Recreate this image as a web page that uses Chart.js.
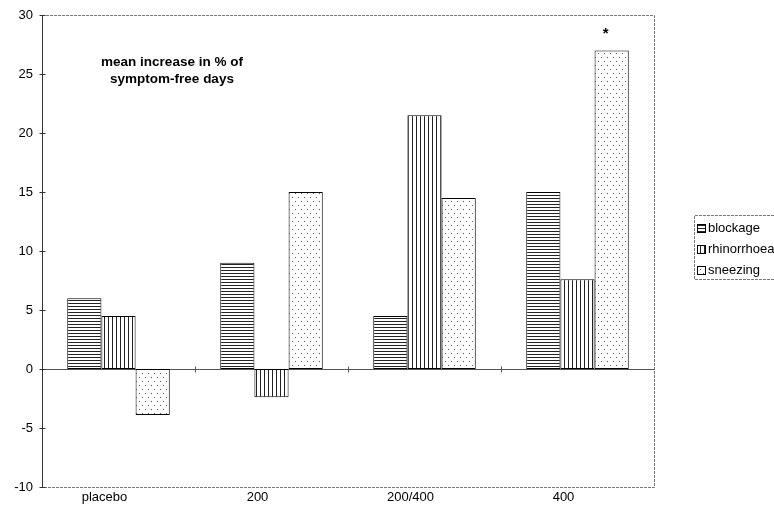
<!DOCTYPE html>
<html>
<head>
<meta charset="utf-8">
<script src="https://cdn.jsdelivr.net/npm/chart.js@4/dist/chart.umd.min.js"></script>
<style>
html,body{margin:0;padding:0;background:#fff;}
#wrap{width:774px;height:505px;position:relative;}
</style>
</head>
<body>
<div id="wrap"><canvas id="c" width="774" height="505"></canvas></div>
<script>
const categories = ['placebo', '200', '200/400', '400'];
const seriesNames = ['blockage', 'rhinorrhoea', 'sneezing'];
const blockage = [6, 9, 4.5, 15];
const rhinorrhoea = [4.5, -2.4, 21.5, 7.6];
const sneezing = [-3.9, 15, 14.5, 27];
const yTicks = [-10, -5, 0, 5, 10, 15, 20, 25, 30];
const titleLines = ['mean increase in % of', 'symptom-free days'];
const significance = '*';

const FONT = '"Liberation Sans", Arial, sans-serif';

function makePattern(kind) {
  const c = document.createElement('canvas');
  const g = c.getContext('2d');
  if (kind === 'h') {
    c.width = 4; c.height = 3;
    g.fillStyle = '#fff'; g.fillRect(0,0,4,3);
    g.fillStyle = '#222'; g.fillRect(0,0,4,1);
  } else if (kind === 'v') {
    c.width = 4; c.height = 4;
    g.fillStyle = '#fff'; g.fillRect(0,0,4,4);
    g.fillStyle = '#222'; g.fillRect(0,0,1,4);
  } else {
    c.width = 6; c.height = 8;
    g.fillStyle = '#fff'; g.fillRect(0,0,6,8);
    g.fillStyle = '#555';
    g.fillRect(1,1,1,1); g.fillRect(4,5,1,1);
  }
  const ctx = document.getElementById('c').getContext('2d');
  return ctx.createPattern(c, 'repeat');
}
const patterns = [makePattern('h'), makePattern('v'), makePattern('d')];
const values = [blockage, rhinorrhoea, sneezing];

const decor = {
  id: 'decor',
  beforeDatasetsDraw(chart) {
    const {ctx, chartArea: a} = chart;
    const y = chart.scales.y;
    ctx.save();
    ctx.strokeStyle = '#777';
    ctx.lineWidth = 1;
    ctx.setLineDash([3, 1]);
    ctx.beginPath();
    ctx.moveTo(a.left, a.top + 0.5); ctx.lineTo(a.right + 0.5, a.top + 0.5);
    ctx.lineTo(a.right + 0.5, a.bottom + 0.5); ctx.lineTo(a.left, a.bottom + 0.5);
    ctx.stroke();
    ctx.setLineDash([]);
    const y0 = Math.round(y.getPixelForValue(0)) + 0.5;
    ctx.strokeStyle = '#555';
    ctx.beginPath(); ctx.moveTo(a.left, y0); ctx.lineTo(a.right, y0); ctx.stroke();
    const x = chart.scales.x;
    for (let i = 1; i < categories.length; i++) {
      const xb = Math.round((x.getPixelForValue(i - 1) + x.getPixelForValue(i)) / 2) + 0.5;
      ctx.beginPath(); ctx.moveTo(xb, y0 - 3); ctx.lineTo(xb, y0 + 3); ctx.stroke();
    }
    ctx.strokeStyle = '#333';
    const xl = a.left + 0.5;
    ctx.beginPath(); ctx.moveTo(xl, a.top); ctx.lineTo(xl, a.bottom); ctx.stroke();
    yTicks.forEach(v => {
      const ty = Math.round(y.getPixelForValue(v)) + 0.5;
      ctx.beginPath(); ctx.moveTo(xl - 3, ty); ctx.lineTo(xl + 3, ty); ctx.stroke();
    });
    ctx.restore();
  },
  afterDraw(chart) {
    const {ctx} = chart;
    ctx.save();
    ctx.fillStyle = '#000';
    ctx.font = 'bold 13.5px ' + FONT;
    ctx.textAlign = 'center';
    ctx.textBaseline = 'middle';
    ctx.fillText(titleLines[0], 172, 62);
    ctx.fillText(titleLines[1], 172, 79);
    const meta = chart.getDatasetMeta(2);
    const bar = meta.data[3];
    ctx.font = 'bold 15px ' + FONT;
    ctx.fillText(significance, bar.x - 6, bar.y - 17);
    // legend
    const lx = 694, top = 215, bottom = 279;
    const rows = [228, 249, 270];
    ctx.strokeStyle = '#777';
    ctx.setLineDash([3, 1]);
    ctx.beginPath();
    ctx.moveTo(774, top + 0.5); ctx.lineTo(lx + 0.5, top + 0.5);
    ctx.lineTo(lx + 0.5, bottom + 0.5); ctx.lineTo(774, bottom + 0.5);
    ctx.stroke();
    ctx.setLineDash([]);
    ctx.font = '13px ' + FONT;
    ctx.textAlign = 'left';
    seriesNames.forEach((name, i) => {
      const cy = rows[i];
      ctx.fillStyle = patterns[i];
      ctx.fillRect(lx + 3, cy - 4, 9, 9);
      ctx.strokeStyle = '#000';
      ctx.strokeRect(lx + 3.5, cy - 3.5, 8, 8);
      ctx.fillStyle = '#000';
      ctx.fillText(name, lx + 14, cy + 0.5);
    });
    ctx.restore();
  }
};

new Chart(document.getElementById('c'), {
  type: 'bar',
  data: {
    labels: categories,
    datasets: seriesNames.map((n, i) => ({
      label: n,
      data: values[i],
      backgroundColor: patterns[i],
      borderColor: '#000',
      borderWidth: 1,
      borderSkipped: false,
      categoryPercentage: 0.67,
      barPercentage: 1.0
    }))
  },
  options: {
    responsive: false,
    animation: false,
    devicePixelRatio: 1,
    layout: { padding: { left: 0, top: 15, right: 120, bottom: 0 } },
    plugins: { legend: { display: false }, tooltip: { enabled: false } },
    scales: {
      x: {
        grid: { display: false, drawTicks: false, tickLength: 0 },
        border: { display: false },
        ticks: {
          color: '#000',
          font: { family: FONT, size: 13 },
          padding: 3,
          labelOffset: -14,
          maxRotation: 0
        },
        afterFit(s) { s.height = 18; s.paddingLeft = 0; s.paddingRight = 0; }
      },
      y: {
        min: -10, max: 30,
        grid: { display: false, drawTicks: false, tickLength: 0 },
        border: { display: false },
        ticks: {
          stepSize: 5,
          color: '#000',
          font: { family: FONT, size: 13 },
          padding: 9
        },
        afterFit(s) { s.width = 42; s.paddingTop = 0; s.paddingBottom = 0; }
      }
    }
  },
  plugins: [decor]
});
</script>
</body>
</html>
